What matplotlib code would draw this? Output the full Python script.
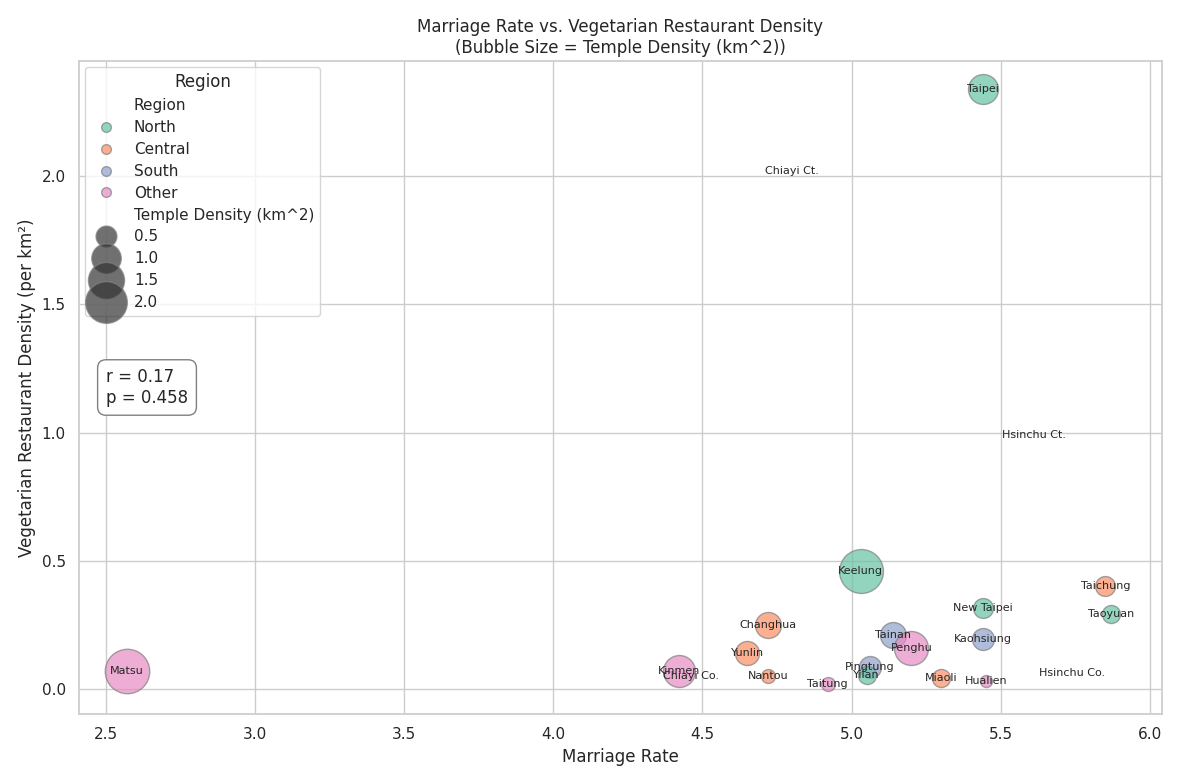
import matplotlib
matplotlib.use("Agg")
import matplotlib.pyplot as plt
import seaborn as sns
import numpy as np
from matplotlib.lines import Line2D

sns.set_theme(style="whitegrid")

names = ["Taipei","Keelung","Taichung","New Taipei","Taoyuan","Changhua","Tainan","Kaohsiung",
         "Penghu","Yunlin","Pingtung","Yilan","Miaoli","Hualien","Taitung","Nantou","Kinmen","Matsu",
         "Chiayi Ct.","Hsinchu Ct.","Hsinchu Co.","Chiayi Co."]
marriage = [5.44,5.03,5.85,5.44,5.87,4.72,5.14,5.44,5.20,4.65,5.06,5.05,5.30,5.45,4.92,4.72,4.42,2.57,
            4.80,5.61,5.74,4.46]
veg = [2.34,0.46,0.40,0.315,0.29,0.25,0.21,0.195,0.16,0.14,0.085,0.055,0.04,0.03,0.02,0.05,0.07,0.07,
       2.02,0.99,0.06,0.05]
region = ["North","North","Central","North","North","Central","South","South","Other","Central","South",
          "North","Central","Other","Other","Central","Other","Other",None,None,None,None]
temple = [0.93,2.0,0.41,0.41,0.34,0.70,0.70,0.5,1.2,0.6,0.5,0.34,0.34,0.15,0.2,0.2,1.06,2.05,
          np.nan,np.nan,np.nan,np.nan]

regions = ["North","Central","South","Other"]
colors = dict(zip(regions, ["#66c2a5","#fc8d62","#8da0cb","#e78ac3"]))
scale = 500

fig, ax = plt.subplots(figsize=(11.82,7.84), dpi=100)
for n,x,y,r,t in zip(names,marriage,veg,region,temple):
    if r is not None and not np.isnan(t):
        ax.scatter(x,y,s=t*scale,color=colors[r],alpha=0.7,edgecolor="gray",linewidth=1,zorder=3)
    ax.text(x,y,n,fontsize=8,ha="center",va="center",zorder=4)

ax.set_xlim(2.41,6.04)
ax.set_ylim(-0.1,2.45)
ax.set_xlabel("Marriage Rate")
ax.set_ylabel("Vegetarian Restaurant Density (per km²)")
ax.set_title("Marriage Rate vs. Vegetarian Restaurant Density\n(Bubble Size = Temple Density (km^2))")

handles = [Line2D([],[],linestyle="none",marker=None)]
labels = ["Region"]
for r in regions:
    handles.append(Line2D([],[],linestyle="none",marker="o",markersize=7,markerfacecolor=colors[r],
                          markeredgecolor="gray",alpha=0.7))
    labels.append(r)
handles.append(Line2D([],[],linestyle="none",marker=None)); labels.append("Temple Density (km^2)")
for v in [0.5,1.0,1.5,2.0]:
    handles.append(Line2D([],[],linestyle="none",marker="o",markersize=np.sqrt(v*scale)*0.95,
                          markerfacecolor="#333333",markeredgecolor="gray",alpha=0.7))
    labels.append(f"{v:.1f}")
ax.legend(handles,labels,title="Region",loc="upper left",fontsize=11,title_fontsize=12,
          labelspacing=0.45,borderaxespad=0.4)

ax.text(0.025,0.53,"r = 0.17\np = 0.458",transform=ax.transAxes,fontsize=12,va="top",
        bbox=dict(boxstyle="round,pad=0.5",facecolor="white",edgecolor="gray"))
fig.tight_layout()
fig.savefig("out.png")
